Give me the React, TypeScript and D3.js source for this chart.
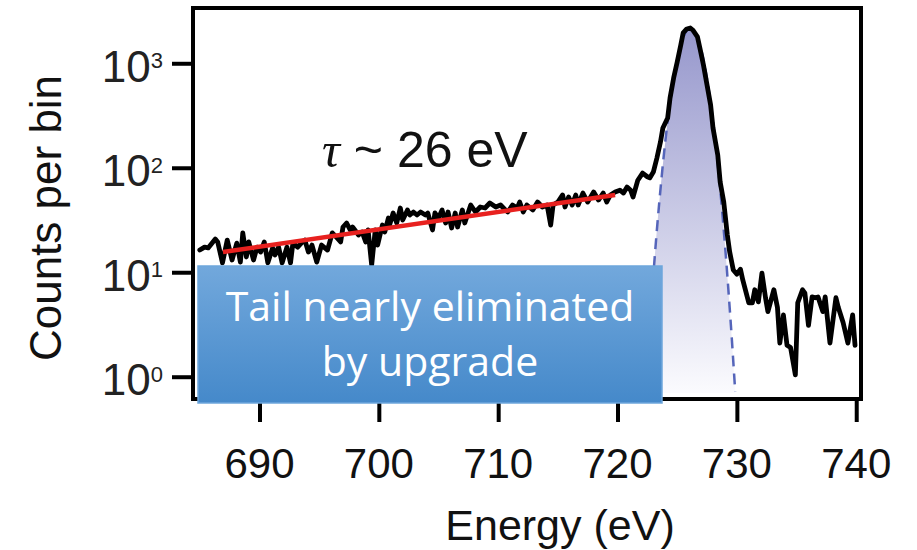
import React, { useEffect, useRef } from 'react';
import * as d3 from 'd3';

// measured spectrum (energy in eV, counts per bin)
const energy = [
  685.0, 685.4, 685.7, 686.3, 686.5, 686.9, 687.3, 687.7, 688.1, 688.4, 688.6, 688.9, 689.1, 689.5, 689.8,
  690.1, 690.4, 690.7, 691.1, 691.3, 691.6, 691.9, 692.3, 692.6, 692.8, 693.2, 693.6, 693.8, 694.1, 694.4,
  694.8, 695.2, 695.7, 696.1, 696.5, 696.8, 697.0, 697.3, 697.6, 697.8, 698.3, 698.6, 698.9, 699.1, 699.4,
  699.7, 699.9, 700.3, 700.5, 700.8, 700.9, 701.2, 701.5, 701.8, 702.0, 702.4, 702.6, 702.9, 703.2, 703.5,
  703.9, 704.1, 704.5, 704.7, 705.0, 705.3, 705.6, 705.8, 706.1, 706.4, 706.6, 707.0, 707.2, 707.7, 708.1,
  708.5, 708.9, 709.3, 709.8, 710.2, 710.6, 710.8, 711.2, 711.6, 711.8, 712.1, 712.4, 712.9, 713.3, 713.7,
  714.1, 714.4, 714.6, 715.0, 715.4, 715.6, 715.9, 716.2, 716.5, 716.7, 717.1, 717.5, 718.0, 718.4, 718.8,
  719.1, 719.4, 719.8, 720.2, 720.5, 720.8, 721.1, 721.3, 721.7, 722.1, 722.5, 722.7, 723.0, 723.3, 723.6,
  723.8, 724.2, 724.4, 724.7, 725.0, 725.3, 725.5, 725.8, 726.1, 726.3, 726.7, 726.9, 727.2, 727.5, 727.8,
  728.0, 728.4, 728.6, 728.9, 729.2, 729.4, 729.7, 730.0, 730.3, 730.5, 731.0, 731.3, 731.5, 731.8, 732.1,
  732.4, 732.6, 733.1, 733.4, 733.6, 733.9, 734.2, 734.5, 734.9, 735.1, 735.5, 735.7, 736.0, 736.3, 736.6,
  736.8, 737.2, 737.4, 737.8, 738.3, 738.5, 738.9, 739.3, 739.7, 739.9,
];
const counts = [
  16.3, 17.4, 17.1, 20.8, 19.5, 12.3, 20.3, 13.1, 19.0, 12.5, 23.8, 14.0, 19.5, 13.1, 17.4,
  15.6, 19.5, 12.3, 17.1, 14.6, 17.4, 12.3, 17.4, 12.3, 19.0, 17.4, 19.5, 20.3, 15.6, 18.2,
  12.5, 18.2, 16.3, 23.8, 21.3, 19.5, 27.1, 29.6, 25.4, 27.1, 22.7, 24.3, 19.5, 25.4, 11.7,
  25.4, 18.2, 28.3, 24.3, 33.0, 28.3, 36.9, 29.6, 41.2, 31.6, 39.4, 35.3, 37.7, 35.3, 37.7,
  35.3, 36.9, 25.4, 36.9, 33.0, 39.4, 29.6, 37.7, 26.5, 36.9, 27.1, 39.4, 29.6, 44.0, 37.7,
  42.1, 41.2, 46.0, 42.1, 44.0, 39.4, 37.7, 44.0, 41.2, 47.0, 37.7, 44.0, 39.4, 47.0, 42.1,
  44.0, 28.3, 44.0, 47.0, 54.9, 42.1, 52.5, 44.0, 54.9, 44.0, 57.3, 47.0, 58.6, 49.1, 57.3,
  47.0, 54.9, 58.6, 61.0, 57.3, 65.5, 61.0, 52.5, 76.0, 89.0, 82.0, 80.0, 91.0, 124, 177,
  240, 299, 465, 722, 1028, 1497, 1950, 2130, 2177, 2083, 1786, 1401, 962, 620, 399,
  240, 132, 73.0, 47.0, 22.7, 15.6, 10.5, 9.6, 10.7, 8.4, 5.1, 5.1, 6.8, 5.2, 9.8,
  5.7, 4.2, 6.8, 4.6, 2.1, 3.9, 2.0, 1.9, 1.04, 5.1, 6.8, 6.3, 3.1, 5.8, 5.7,
  5.8, 4.2, 5.8, 2.1, 5.7, 4.6, 3.3, 2.1, 3.9, 2.0,
];

// gaussian peak fit
const fitEnergy = [722.35, 723.0, 723.5, 724.0, 724.5, 725.0, 725.5, 725.8, 726.1, 726.5, 727.0, 727.5, 728.0, 728.5, 729.0, 729.5, 729.86];
const fitCounts = [0.7, 9.3, 46.9, 177, 505, 1084, 1754, 2050, 2150, 1964, 1360, 709, 279, 82.6, 18.4, 3.1, 0.72];

// exponential tail fit, tau ~ 26 eV
const tailEnergy = [686.94, 719.8];
const tailCounts = [15.6, 54.9];

const xTicks = [690, 700, 710, 720, 730, 740];
const yTicks = [1, 10, 100, 1000];
const yTickExp = ['0', '1', '2', '3'];

const W = 917;
const H = 550;
const frame = { left: 193, right: 861, top: 8, bottom: 399 };
const sans = "'Liberation Sans', Arial, sans-serif";

export default function App() {
  const ref = useRef<SVGSVGElement>(null);

  useEffect(() => {
    const svg = d3.select(ref.current);
    svg.selectAll('*').remove();

    const x = d3.scaleLinear().domain([684.43, 740.4]).range([frame.left, frame.right]);
    const y = d3.scaleLog().domain([0.612, 3381]).range([frame.bottom, frame.top]);

    const defs = svg.append('defs');
    const peakGrad = defs.append('linearGradient').attr('id', 'peakGrad').attr('x1', 0).attr('y1', 0).attr('x2', 0).attr('y2', 1);
    peakGrad.append('stop').attr('offset', '0%').attr('stop-color', '#9697cc');
    peakGrad.append('stop').attr('offset', '100%').attr('stop-color', '#fbfbfe');
    const boxGrad = defs.append('linearGradient').attr('id', 'boxGrad').attr('x1', 0).attr('y1', 0).attr('x2', 0).attr('y2', 1);
    boxGrad.append('stop').attr('offset', '0%').attr('stop-color', '#72a8dc');
    boxGrad.append('stop').attr('offset', '100%').attr('stop-color', '#4589ca');

    const fit = fitEnergy.map((e, i) => [e, fitCounts[i]] as [number, number]);

    // peak fill + dashed gaussian
    svg.append('path')
      .datum(fit)
      .attr('d', d3.area<[number, number]>().x(d => x(d[0])).y0(y(0.7)).y1(d => y(d[1])).curve(d3.curveCatmullRom))
      .attr('fill', 'url(#peakGrad)');
    svg.append('path')
      .datum(fit)
      .attr('d', d3.line<[number, number]>().x(d => x(d[0])).y(d => y(d[1])).curve(d3.curveCatmullRom))
      .attr('fill', 'none')
      .attr('stroke', '#5565ba')
      .attr('stroke-width', 2.5)
      .attr('stroke-dasharray', '11 7');

    // spectrum
    svg.append('path')
      .datum(energy.map((e, i) => [e, counts[i]] as [number, number]))
      .attr('d', d3.line<[number, number]>().x(d => x(d[0])).y(d => y(d[1])))
      .attr('fill', 'none')
      .attr('stroke', '#000')
      .attr('stroke-width', 4.8)
      .attr('stroke-linejoin', 'round')
      .attr('stroke-linecap', 'round');

    // tail fit
    svg.append('path')
      .datum(tailEnergy.map((e, i) => [e, tailCounts[i]] as [number, number]))
      .attr('d', d3.line<[number, number]>().x(d => x(d[0])).y(d => y(d[1])))
      .attr('stroke', '#e8211f')
      .attr('stroke-width', 4.5);

    // frame
    svg.append('rect')
      .attr('x', frame.left).attr('y', frame.top)
      .attr('width', frame.right - frame.left).attr('height', frame.bottom - frame.top)
      .attr('fill', 'none').attr('stroke', '#000').attr('stroke-width', 4);

    const xAxis = svg.append('g')
      .attr('transform', `translate(0,${frame.bottom})`)
      .call(d3.axisBottom(x).tickValues(xTicks).tickSize(23).tickFormat(() => ''));
    xAxis.select('.domain').remove();
    xAxis.selectAll('line').attr('stroke', '#000').attr('stroke-width', 4);

    const yAxis = svg.append('g')
      .attr('transform', `translate(${frame.left},0)`)
      .call(d3.axisLeft(y).tickValues(yTicks).tickSize(21).tickFormat(() => ''));
    yAxis.select('.domain').remove();
    yAxis.selectAll('line').attr('stroke', '#000').attr('stroke-width', 4);

    // tick labels
    svg.append('g').selectAll('text')
      .data(xTicks)
      .join('text')
      .attr('x', d => x(d))
      .attr('y', 478)
      .attr('text-anchor', 'middle')
      .style('font-family', sans)
      .style('font-size', '42px')
      .attr('fill', '#111')
      .text(d => d);

    yTicks.forEach((t, i) => {
      const lbl = svg.append('text')
        .attr('x', 163)
        .attr('y', y(t) + 18.5)
        .attr('text-anchor', 'end')
        .style('font-family', sans)
        .style('font-size', '44px')
        .attr('fill', '#222');
      lbl.append('tspan').text('10');
      lbl.append('tspan').attr('dy', -13.5).style('font-size', '22px').text(yTickExp[i]);
    });

    // axis titles
    svg.append('text')
      .attr('transform', 'translate(61,218) rotate(-90)')
      .attr('text-anchor', 'middle')
      .style('font-family', sans)
      .style('font-size', '44px')
      .attr('fill', '#111')
      .text('Counts per bin');
    svg.append('text')
      .attr('x', 560)
      .attr('y', 540)
      .attr('text-anchor', 'middle')
      .style('font-family', sans)
      .style('font-size', '43px')
      .attr('fill', '#111')
      .text('Energy (eV)');

    // tau annotation
    const tau = svg.append('text')
      .attr('x', 322)
      .attr('y', 167)
      .style('font-size', '50px')
      .style('white-space', 'pre')
      .attr('fill', '#111');
    tau.append('tspan').style('font-family', "'Liberation Serif', 'Times New Roman', serif").style('font-style', 'italic').text('τ');
    tau.append('tspan').style('font-family', sans).text(' ~ 26 eV');

    // callout box
    svg.append('rect')
      .attr('x', 198).attr('y', 266)
      .attr('width', 464).attr('height', 137)
      .attr('fill', 'url(#boxGrad)')
      .attr('stroke', '#6ea6dc')
      .attr('stroke-width', 1.5);
    const boxText = svg.append('g')
      .style('font-family', "'Open Sans', sans-serif")
      .style('font-size', '41px')
      .attr('fill', '#fff')
      .attr('text-anchor', 'middle');
    boxText.append('text').attr('x', 430).attr('y', 321).text('Tail nearly eliminated');
    boxText.append('text').attr('x', 430).attr('y', 376).text('by upgrade');
  }, []);

  return (
    <svg
      ref={ref}
      width={W}
      height={H}
      style={{ position: 'absolute', left: 0, top: 0, background: '#fff' }}
    />
  );
}
